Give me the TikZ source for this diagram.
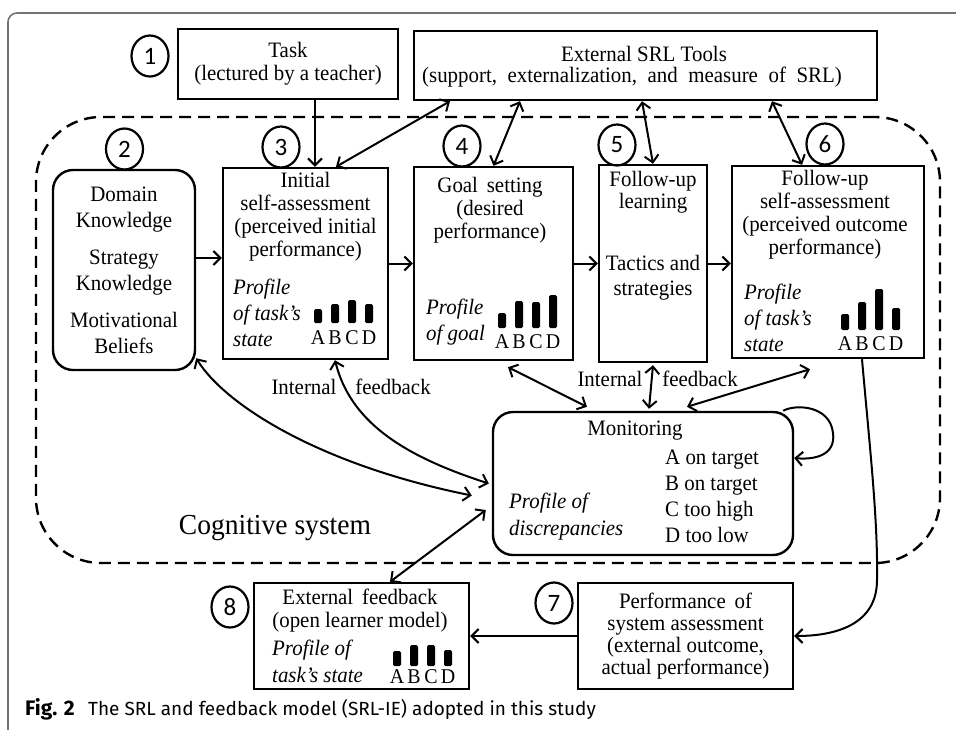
\documentclass[tikz,border=0pt]{standalone}
\usepackage{fontspec}
\setmainfont[FakeStretch=0.95]{Liberation Serif}
\newfontfamily\numfont{Carlito}
\newfontfamily\capfont{Fira Sans}
\usetikzlibrary{arrows.meta,shapes.geometric}
\definecolor{framecol}{gray}{0.45}
\tikzset{
  box/.style={draw,line width=2.4pt,inner sep=0pt},
  rbox/.style={box,rounded corners=20pt},
  num/.style={draw,ellipse,line width=2.2pt,minimum width=37pt,minimum height=41pt,inner sep=0pt,font=\numfont\fontsize{25}{25}\selectfont},
  txt/.style={align=center,inner sep=0pt},
  prof/.style={align=left,inner sep=0pt,anchor=west,font=\fontsize{22}{26}\selectfont\itshape},
  link/.style={line width=2pt,-{Straight Barb[length=7pt,width=14pt]}},
  dlink/.style={line width=2pt,{Straight Barb[length=7pt,width=14pt]}-{Straight Barb[length=7pt,width=14pt]}},
  cogsys/.style={draw,dash pattern=on 12pt off 7pt,line width=2.4pt,rounded corners=65pt,inner sep=0pt},
}
% bars of a profile: name, x of A, bottom, label y, four heights
\newcommand\profbars[8]{%
  \foreach \h/\l [count=\i from 0] in {#5/A,#6/B,#7/C,#8/D} {
    \fill[rounded corners=1.5pt] (#2+\i*17-4,#3) rectangle ++(8,-\h);
    \node[inner sep=0pt,font=\fontsize{21}{21}\selectfont] at (#2+\i*17,#4) (#1\l) {\l};
  }}
\begin{document}
\begin{tikzpicture}[x=1pt,y=-1pt,font=\fontsize{22}{23}\selectfont]
\useasboundingbox (0,0) rectangle (956,729);
\draw[framecol,line width=1.6pt,rounded corners=9pt] (956,13) -- (8,13) -- (8,740) -- (30,740);

\node[cogsys,minimum width=904pt,minimum height=446pt] at (488,340) (cog) {};
\node[inner sep=0pt,font=\fontsize{29}{30}\selectfont] at (275,528) (cogtxt) {Cognitive system};

% top boxes
\node[box,minimum width=220pt,minimum height=70pt,align=center] at (288,64) (task) {Task\\(lectured by a teacher)};
\node[box,minimum width=463pt,minimum height=69pt] at (645.5,65.5) (ext) {};
\node[txt] at (644,54) (exttop) {External SRL Tools};
\node[txt] at (632,77) (extbot) {\spaceskip=0.48em (support, externalization, and measure of SRL)};

% row of phases
\node[rbox,minimum width=142pt,minimum height=200pt,align=center,font=\fontsize{22}{26}\selectfont] at (124,270) (dom)
  {Domain\\Knowledge\\[11pt]Strategy\\Knowledge\\[11pt]Motivational\\Beliefs};

\node[box,minimum width=165pt,minimum height=191pt] at (305.5,263.5) (init) {};
\node[txt] at (305.5,216.5) (inittxt) {Initial\\self-assessment\\(perceived initial\\performance)};
\node[prof] at (233,313) (initprof) {Profile\\of task’s\\state};
\profbars{init}{318}{323}{338}{14}{19}{23}{19}

\node[box,minimum width=159pt,minimum height=193pt] at (493.5,263.5) (goal) {};
\node[txt] at (490,210) (goaltxt) {\spaceskip=0.4em Goal setting\\(desired\\performance)};
\node[prof] at (426,322) (goalprof) {Profile\\of goal};
\profbars{goal}{502}{328}{342}{15}{27}{26}{33}

\node[box,minimum width=108pt,minimum height=197pt] at (653,263.5) (fu) {};
\node[txt,font=\fontsize{22}{22}\selectfont] at (653,192.5) (futop) {Follow-up\\learning};
\node[txt,font=\fontsize{22}{25}\selectfont] at (653,277.5) (fubot) {Tactics and\\strategies};

\node[box,minimum width=192pt,minimum height=192pt] at (828,262) (fusa) {};
\node[txt] at (825,214.5) (fusatxt) {Follow-up\\self-assessment\\(perceived outcome\\performance)};
\node[prof] at (744,317.5) (fusaprof) {Profile\\of task’s\\state};
\profbars{fusa}{845}{330}{344}{16}{28}{41}{22}

% monitoring
\node[rbox,minimum width=300pt,minimum height=143pt] at (643,483.5) (mon) {};
\node[inner sep=0pt] at (635,431) (montop) {Monitoring};
\node[align=left,inner sep=0pt,anchor=west,font=\fontsize{22}{26}\selectfont] at (665,496) (monlist)
  {A on target\\B on target\\C too high\\D too low};
\node[prof,font=\fontsize{22}{27}\selectfont\itshape] at (509,516.5) (monprof) {Profile of\\discrepancies};

% bottom boxes
\node[box,minimum width=215pt,minimum height=106pt] at (361.5,636) (extfb) {};
\node[txt] at (360,611) (extfbtxt) {\spaceskip=0.4em External feedback\\(open learner model)};
\node[prof,font=\fontsize{22}{27}\selectfont\itshape] at (272,661.5) (extfbprof) {Profile of\\task’s state};
\profbars{extfb}{397}{666}{677}{15}{21}{21}{16}

\node[box,minimum width=215pt,minimum height=106pt,align=center,font=\fontsize{22}{22}\selectfont] at (685.5,636) (perf)
  {\spaceskip=0.4em Performance of\\system assessment\\(external outcome,\\actual performance)};

% numbers
\node[num] at (150,56) (n1) {1};
\node[num] at (124.5,149) (n2) {2};
\node[num] at (281,147) (n3) {3};
\node[num] at (462,146) (n4) {4};
\node[num] at (617,145) (n5) {5};
\node[num] at (825,144) (n6) {6};
\node[num] at (554,603) (n7) {7};
\node[num] at (230,607) (n8) {8};

% labels
\node[inner sep=0pt] at (304,387) (int1) {Internal};
\node[inner sep=0pt] at (393,387) (fb1) {feedback};
\node[inner sep=0pt] at (610,379) (int2) {Internal};
\node[inner sep=0pt] at (700,379) (fb2) {feedback};

% arrows
\draw[link] ([xshift=27pt]task.south) -- ([xshift=9.5pt]init.north);
\draw[dlink] ([xshift=-195.5pt]ext.south) -- ([xshift=30.5pt]init.north);
\draw[dlink] ([xshift=-125.5pt]ext.south) -- (goal.north);
\draw[dlink] ([xshift=-3.5pt]ext.south) -- (fu.north);
\draw[dlink] ([xshift=126.5pt]ext.south) -- ([xshift=-26pt]fusa.north);

\draw[link] ([yshift=12pt]dom.east) -- ([yshift=12pt]dom.east -| init.west);
\draw[link] (init.east) -- (init.east -| goal.west);
\draw[link] (goal.east) -- (goal.east -| fu.west);
\draw[link] (fu.east) -- (fu.east -| fusa.west);

\draw[dlink] ([yshift=13pt]dom.south east) .. controls (225,405) and (320,465) .. ([xshift=-20pt,yshift=-12pt]mon.west);
\draw[dlink] ([xshift=29.5pt]init.south) .. controls (350,420) and (400,455) .. ([xshift=-3pt]mon.west);
\draw[dlink] ([xshift=28.5pt]extfb.north) -- ([xshift=-6pt,yshift=-26.5pt]mon.west);
\draw[dlink] ([xshift=14.5pt,yshift=-6pt]goal.south) -- ([xshift=-56pt,yshift=4pt]mon.north);
\draw[dlink] ([yshift=-2pt]fu.south) -- ([xshift=6pt,yshift=2pt]mon.north);
\draw[dlink] ([xshift=-18pt,yshift=-10pt]fusa.south) -- ([xshift=44pt,yshift=4pt]mon.north);
\draw[link] ([xshift=-11pt]mon.north east) .. controls (795,404) and (830,405) .. (833,433)
  .. controls (836,455) and (815,460) .. ([yshift=25.5pt]mon.east);

\draw[link] ([xshift=34pt]fusa.south) .. controls (870,450) and (878,520) .. (877,580)
  .. controls (877,625) and (835,636) .. (perf.east);
\draw[link] (perf.west) -- (perf.west -| extfb.east);

% caption
\node[anchor=base west,inner sep=0pt,font=\capfont\bfseries\fontsize{21}{22}\selectfont] at (25,715) (figno) {Fig. 2};
\node[anchor=base west,inner sep=0pt,font=\capfont\fontsize{19}{20}\selectfont] at (88,715) (figcap) {The SRL and feedback model (SRL-IE) adopted in this study};
\end{tikzpicture}
\end{document}
